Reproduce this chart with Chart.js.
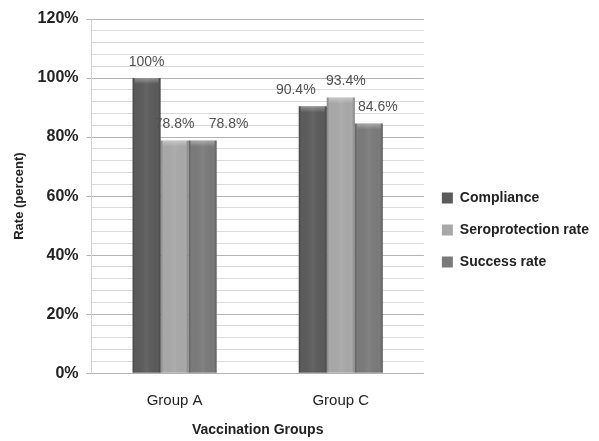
<!DOCTYPE html>
<html>
<head>
<meta charset="utf-8">
<script src="https://cdn.jsdelivr.net/npm/chart.js@4/dist/chart.umd.min.js"></script>
<style>
  html, body { margin: 0; padding: 0; background: #fff; }
  #wrap { width: 599px; height: 441px; position: relative; }
</style>
</head>
<body>
<div id="wrap"><canvas id="myChart"></canvas></div>
<script>
// Datos del gráfico
const groups = ['Group A', 'Group C'];
const seriesNames = ['Compliance', 'Seroprotection rate', 'Success rate'];
const compliance = [100, 90.4];
const seroprotection = [78.8, 93.4];
const success = [78.8, 84.6];
const yTicks = [0, 20, 40, 60, 80, 100, 120];

// Colores de las barras (gris oscuro, gris claro, gris medio)
const fills = ['#5b5b5b', '#a8a8a8', '#7a7a7a'];

// Pequeño desplazamiento horizontal de cada etiqueta de valor
const labelShift = [[0, -17], [0, 5], [26, 9]];

const font = '"Liberation Sans", Arial, sans-serif';

const valueLabels = {
    id: 'valueLabels',
    afterDatasetsDraw(chart) {
        const ctx = chart.ctx;
        ctx.save();
        ctx.font = '14px ' + font;
        ctx.fillStyle = '#505050';
        ctx.textAlign = 'center';
        ctx.textBaseline = 'bottom';
        chart.data.datasets.forEach((ds, di) => {
            chart.getDatasetMeta(di).data.forEach((bar, i) => {
                ctx.fillText(ds.data[i] + '%', bar.x + labelShift[di][i], bar.y - 9);
            });
        });
        ctx.restore();
    }
};

// Efecto biselado sobre cada barra
const bevel = {
    id: 'bevel',
    afterDatasetsDraw(chart) {
        const ctx = chart.ctx;
        ctx.save();
        chart.data.datasets.forEach((ds, di) => {
            chart.getDatasetMeta(di).data.forEach((bar) => {
                const left = bar.x - bar.width / 2;
                const w = bar.width;
                const top = bar.y;
                const h = bar.base - bar.y;
                const g = ctx.createLinearGradient(left, 0, left + w, 0);
                g.addColorStop(0, 'rgba(0,0,0,0.2)');
                g.addColorStop(0.1, 'rgba(0,0,0,0.0)');
                g.addColorStop(0.5, 'rgba(255,255,255,0.06)');
                g.addColorStop(0.9, 'rgba(0,0,0,0.0)');
                g.addColorStop(1, 'rgba(0,0,0,0.22)');
                ctx.fillStyle = g;
                ctx.fillRect(left, top, w, h);
                // brillo superior
                const tg = ctx.createLinearGradient(0, top, 0, top + 6);
                tg.addColorStop(0, 'rgba(255,255,255,0.35)');
                tg.addColorStop(1, 'rgba(255,255,255,0)');
                ctx.fillStyle = tg;
                ctx.fillRect(left + 2, top, w - 4, 6);
            });
        });
        ctx.restore();
    }
};

const ctx = document.getElementById('myChart').getContext('2d');

new Chart(ctx, {
    type: 'bar',
    data: {
        labels: groups,
        datasets: [compliance, seroprotection, success].map((d, i) => ({
            label: seriesNames[i],
            data: d,
            backgroundColor: fills[i],
            borderWidth: 0,
            categoryPercentage: 0.506,
            barPercentage: 1
        }))
    },
    options: {
        responsive: true,
        maintainAspectRatio: false,
        animation: false,
        layout: { padding: { left: 8, right: 0, top: 19, bottom: 0 } },
        plugins: {
            tooltip: { enabled: false },
            legend: {
                position: 'right',
                maxWidth: 220,
                labels: {
                    boxWidth: 11,
                    boxHeight: 11,
                    padding: 18,
                    color: '#222',
                    font: { family: font, size: 14, weight: 'bold' }
                }
            }
        },
        scales: {
            x: {
                grid: { display: false, drawTicks: false },
                border: { display: false },
                ticks: {
                    color: '#222',
                    padding: 19,
                    font: { family: font, size: 15 }
                },
                title: {
                    display: true,
                    text: 'Vaccination Groups',
                    color: '#222',
                    padding: { top: -7, bottom: 2 },
                    font: { family: font, size: 14, weight: 'bold' }
                }
            },
            y: {
                min: 0,
                max: 120,
                afterBuildTicks(axis) {
                    const t = [];
                    for (let v = 0; v <= 120; v += 4) t.push({ value: v });
                    axis.ticks = t;
                },
                border: { display: true, color: '#d0d0d0' },
                grid: {
                    color: c => (yTicks.includes(c.tick.value) ? '#b3b3b3' : '#dadada'),
                    tickColor: c => (yTicks.includes(c.tick.value) ? '#b3b3b3' : 'rgba(0,0,0,0)'),
                    tickLength: 5
                },
                ticks: {
                    autoSkip: false,
                    color: '#222',
                    padding: 8,
                    font: { family: font, size: 16, weight: 'bold' },
                    callback: v => (yTicks.includes(v) ? v + '%' : '')
                },
                title: {
                    display: true,
                    text: 'Rate (percent)',
                    color: '#222',
                    padding: { top: 4, bottom: 2 },
                    font: { family: font, size: 13, weight: 'bold' }
                }
            }
        }
    },
    plugins: [bevel, valueLabels]
});
</script>
</body>
</html>
